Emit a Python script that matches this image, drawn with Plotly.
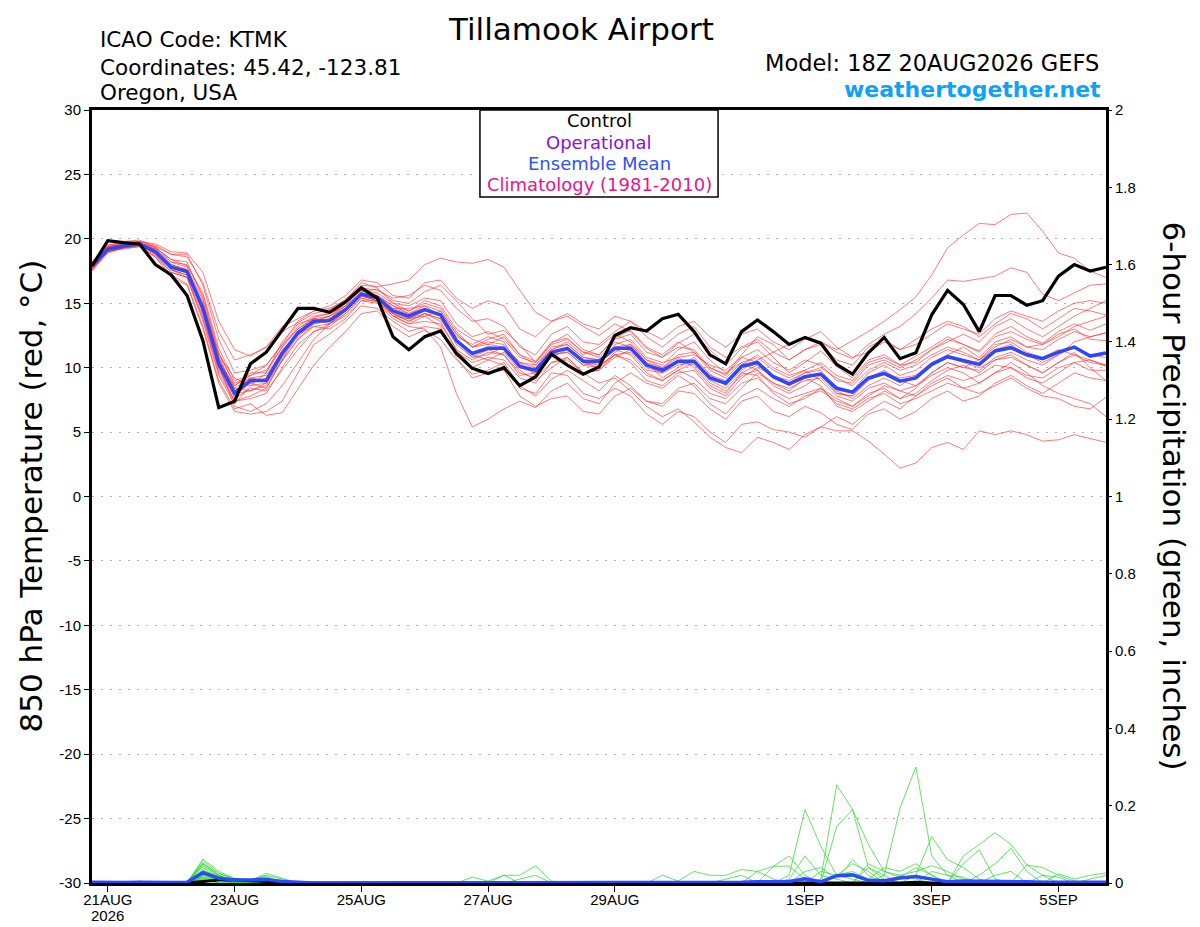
import pandas as pd
import plotly.graph_objects as go

# GEFS run 18Z 20AUG2026, 6-hourly steps out to 16 days (65 steps)
times = pd.date_range('2026-08-20 18:00', periods=65, freq='6h')

tick_dates = ['2026-08-21', '2026-08-23', '2026-08-25', '2026-08-27',
              '2026-08-29', '2026-09-01', '2026-09-03', '2026-09-05']
tick_text = ['21AUG', '23AUG', '25AUG', '27AUG', '29AUG', '1SEP', '3SEP', '5SEP']
year_label = '2026'

temp_ticks = [30, 25, 20, 15, 10, 5, 0, -5, -10, -15, -20, -25, -30]
temp_tick_text = ['30', '25', '20', '15', '10', '5', '0', '-5', '-10', '-15', '-20', '-25', '-30']

# 850 hPa temperature, control run
control_t = [17.9, 19.85, 19.7, 19.6, 18.0, 17.2, 15.6, 12.1, 6.9, 7.4,
             10.3, 11.2, 12.9, 14.6, 14.6, 14.3, 15.1, 16.2, 15.4, 12.4,
             11.4, 12.4, 12.85, 11.1, 9.95, 9.55, 10.0, 8.6, 9.3, 11.05,
             10.2, 9.5, 10.05, 12.5, 13.1, 12.85, 13.8, 14.15, 12.8, 11.0,
             10.3, 12.8, 13.7, 12.8, 11.8, 12.35, 11.9, 10.25, 9.5, 11.15,
             12.35, 10.7, 11.15, 14.1, 16.0, 14.9, 12.8, 15.6, 15.6, 14.85,
             15.2, 17.1, 18.0, 17.5, 17.8]

# 850 hPa temperature, ensemble mean
mean_t = [17.9, 19.2, 19.45, 19.6, 19.0, 17.8, 17.45, 14.6, 10.3, 8.05,
          9.0, 9.0, 11.1, 12.7, 13.6, 13.65, 14.5, 15.7, 15.45, 14.4,
          14.0, 14.5, 14.1, 12.1, 11.1, 11.5, 11.5, 10.1, 9.8, 11.2,
          11.5, 10.5, 10.5, 11.5, 11.5, 10.2, 9.8, 10.5, 10.5, 9.2,
          8.8, 10.1, 10.4, 9.3, 8.75, 9.3, 9.5, 8.4, 8.1, 9.2,
          9.55, 8.95, 9.2, 10.25, 10.85, 10.55, 10.25, 11.3, 11.55, 11.0,
          10.7, 11.2, 11.6, 10.9, 11.15]

# 850 hPa temperature, ensemble members
members_t = [
    [18.2, 19.5, 19.8, 19.9, 19.3, 18.4, 17.9, 15.8, 11.5, 9.0, 9.4, 10.2, 11.8, 13.0, 13.9, 14.2, 15.0, 16.0, 15.6, 14.8,
     14.4, 15.2, 14.8, 13.0, 12.2, 11.8, 12.4, 11.0, 10.5, 12.0, 12.3, 11.2, 10.8, 12.0, 11.6, 10.4, 9.2, 10.0, 10.8, 9.5,
     8.6, 9.8, 10.6, 11.2, 11.8, 12.4, 12.0, 11.4, 12.1, 12.8, 13.6, 14.5, 15.5, 17.2, 19.3, 20.3, 21.2, 21.1, 21.9, 22.0,
     20.6, 18.9, 18.5, 17.5, 17.0],
    [17.6, 19.0, 19.3, 19.5, 19.2, 18.0, 17.6, 15.0, 11.0, 9.2, 8.6, 8.8, 10.5, 12.2, 13.4, 13.8, 14.8, 15.9, 16.1, 15.2,
     15.0, 15.9, 16.4, 15.2, 13.8, 12.6, 12.9, 11.8, 10.4, 11.9, 12.6, 11.4, 11.0, 12.3, 12.9, 11.6, 11.0, 12.0, 11.2, 10.0,
     9.5, 11.0, 12.4, 11.8, 10.6, 11.4, 12.0, 11.2, 10.7, 11.8, 12.6, 13.2, 14.2, 15.4, 16.8, 16.7, 16.9, 17.1, 17.75, 17.4,
     15.7, 15.2, 15.8, 16.4, 16.5],
    [18.0, 19.3, 19.6, 19.8, 19.6, 19.0, 18.9, 17.4, 13.6, 11.4, 10.9, 11.6, 12.8, 13.5, 14.2, 14.5, 15.3, 16.4, 16.3, 16.5,
     16.8, 18.0, 18.5, 18.2, 18.1, 18.4, 17.8, 16.0, 14.3, 13.6, 14.0, 13.2, 12.5, 13.4, 12.8, 11.5, 10.8, 11.9, 12.6, 11.4,
     10.2, 11.5, 12.0, 10.8, 9.6, 10.4, 11.3, 10.1, 9.2, 10.6, 11.0, 10.2, 10.9, 11.6, 12.4, 11.8, 11.3, 12.6, 13.2, 12.4,
     11.9, 12.8, 13.4, 12.9, 13.4],
    [17.7, 19.1, 19.2, 19.4, 18.6, 17.2, 16.5, 13.2, 9.0, 6.8, 7.2, 6.3, 6.5, 8.4, 10.2, 11.6, 12.8, 14.2, 14.4, 13.2,
     12.4, 12.9, 12.2, 10.6, 9.5, 9.8, 10.4, 8.6, 7.8, 9.1, 9.8, 9.0, 8.2, 9.4, 8.6, 7.4, 7.0, 8.2, 8.0, 6.8,
     6.0, 7.4, 7.8, 6.6, 6.2, 7.0, 6.5, 5.6, 5.2, 6.4, 6.8, 6.0, 6.6, 7.6, 8.2, 7.4, 7.8, 8.8, 9.4, 8.6,
     8.0, 8.8, 9.6, 9.2, 9.0],
    [17.8, 19.2, 19.5, 19.6, 19.0, 17.6, 17.0, 14.0, 9.8, 7.8, 8.8, 9.2, 11.4, 12.6, 13.2, 13.0, 13.8, 15.2, 15.0, 13.8,
     13.2, 13.0, 11.6, 8.0, 5.4, 6.0, 6.8, 7.4, 6.9, 8.2, 8.8, 7.6, 7.2, 8.8, 9.6, 8.8, 8.4, 9.4, 8.6, 7.2,
     6.4, 7.8, 8.4, 7.6, 7.0, 7.8, 8.2, 7.4, 7.0, 8.0, 8.4, 7.6, 8.0, 9.0, 9.8, 10.2, 9.6, 10.6, 11.0, 10.2,
     9.6, 10.4, 11.2, 10.0, 9.0],
    [18.1, 19.4, 19.6, 19.7, 18.8, 17.6, 17.2, 14.4, 10.0, 7.4, 7.6, 8.0, 10.0, 11.8, 12.8, 13.2, 14.2, 15.4, 15.1, 14.0,
     13.8, 14.2, 13.6, 11.4, 10.0, 10.6, 10.2, 8.4, 8.0, 9.6, 9.4, 8.0, 7.6, 8.4, 7.8, 6.4, 5.6, 6.6, 6.2, 5.0,
     4.2, 5.6, 5.8, 5.2, 5.0, 4.6, 5.4, 5.1, 5.1, 4.3, 3.3, 2.2, 2.6, 3.8, 4.2, 3.65, 5.1, 4.8, 5.1, 4.8,
     4.3, 4.4, 4.8, 4.5, 4.2],
    [17.5, 18.9, 19.3, 19.5, 19.1, 17.9, 17.5, 14.8, 10.8, 8.4, 8.2, 8.6, 10.8, 12.4, 13.6, 14.0, 14.6, 15.6, 15.2, 14.6,
     14.2, 14.6, 14.0, 12.2, 11.0, 10.6, 11.2, 9.8, 9.0, 10.0, 10.8, 9.6, 8.8, 9.2, 8.2, 7.0, 6.2, 6.8, 5.8, 4.6,
     3.8, 3.4, 4.6, 4.2, 3.65, 4.8, 5.4, 6.2, 5.6, 6.6, 7.4, 6.8, 7.8, 8.6, 9.2, 8.4, 8.8, 9.6, 10.4, 9.6,
     8.6, 8.0, 7.6, 7.2, 6.2],
    [17.9, 19.3, 19.5, 19.7, 19.2, 18.2, 18.0, 15.6, 11.2, 8.6, 9.6, 9.6, 11.6, 13.2, 14.0, 14.2, 14.8, 16.2, 16.0, 15.4,
     15.6, 16.4, 16.0, 14.6, 13.6, 13.8, 13.2, 11.6, 11.0, 12.6, 13.2, 12.0, 11.8, 12.8, 13.6, 12.8, 12.2, 13.2, 13.6, 12.4,
     11.6, 12.6, 13.0, 12.0, 11.4, 12.2, 12.8, 11.6, 10.8, 11.2, 12.0, 11.4, 12.2, 13.0, 13.6, 13.2, 12.4, 13.4, 14.2, 13.8,
     13.0, 13.8, 14.6, 14.4, 14.1],
    [17.6, 19.0, 19.4, 19.5, 18.9, 17.8, 17.6, 14.2, 10.4, 7.6, 8.4, 8.2, 9.8, 11.4, 12.8, 13.4, 14.4, 15.6, 15.6, 14.0,
     13.4, 14.0, 14.4, 12.6, 11.6, 12.2, 12.6, 11.0, 10.2, 11.4, 12.0, 11.0, 11.6, 12.6, 12.0, 10.6, 10.2, 11.4, 12.0, 10.6,
     9.6, 10.4, 9.8, 8.6, 8.0, 8.6, 9.4, 8.2, 7.6, 8.6, 9.2, 8.6, 9.4, 10.4, 11.0, 11.6, 10.8, 12.0, 12.4, 11.6,
     11.4, 12.2, 12.8, 12.4, 12.7],
    [18.0, 19.2, 19.4, 19.5, 18.7, 17.4, 17.0, 13.6, 9.4, 7.2, 8.6, 9.6, 12.0, 13.4, 13.8, 13.4, 14.0, 15.2, 15.2, 14.2,
     13.6, 14.2, 13.8, 11.8, 10.8, 11.4, 11.0, 9.4, 9.6, 11.0, 11.2, 10.2, 10.4, 11.8, 12.2, 10.8, 10.4, 10.8, 10.0, 8.6,
     8.0, 9.6, 10.2, 9.2, 8.6, 9.2, 9.6, 8.0, 7.8, 9.2, 9.8, 9.0, 8.6, 9.6, 10.4, 10.0, 10.6, 11.8, 12.0, 11.2,
     10.8, 11.4, 11.0, 10.4, 10.2],
    [17.8, 19.1, 19.3, 19.6, 19.4, 18.8, 18.6, 16.6, 12.8, 10.6, 11.0, 11.6, 13.2, 13.8, 14.4, 14.6, 15.2, 16.6, 16.2, 15.0,
     14.4, 15.0, 14.6, 12.8, 11.6, 12.0, 11.8, 10.4, 10.2, 11.6, 11.8, 10.8, 10.6, 11.4, 11.0, 9.6, 9.0, 9.8, 10.4, 9.4,
     9.0, 10.2, 11.0, 10.0, 9.4, 9.8, 9.0, 7.8, 7.4, 8.4, 8.8, 8.2, 8.6, 9.4, 10.0, 9.6, 8.8, 9.6, 10.0, 9.4,
     9.2, 10.0, 10.4, 9.8, 9.8],
    [17.7, 19.0, 19.3, 19.4, 18.6, 17.0, 16.4, 13.0, 8.8, 6.6, 6.4, 6.6, 7.4, 9.6, 11.8, 12.6, 13.6, 14.8, 14.6, 13.6,
     12.8, 13.2, 13.0, 11.2, 10.4, 10.8, 10.6, 9.2, 8.8, 10.4, 10.6, 9.6, 9.8, 11.0, 10.6, 9.4, 9.0, 9.8, 9.2, 8.0,
     7.6, 8.8, 9.2, 8.2, 7.6, 8.0, 8.4, 7.2, 6.8, 7.6, 8.0, 7.2, 7.6, 8.2, 8.8, 8.4, 8.0, 8.6, 9.2, 8.4,
     7.8, 7.6, 7.0, 6.8, 7.7],
    [18.0, 19.4, 19.7, 19.8, 19.4, 18.2, 17.8, 15.2, 10.8, 8.2, 8.8, 8.4, 10.6, 12.8, 13.8, 14.0, 15.0, 16.0, 15.8, 15.0,
     14.8, 15.4, 15.2, 13.4, 12.4, 12.8, 12.2, 10.8, 10.4, 11.8, 12.2, 11.2, 11.0, 12.2, 12.6, 11.2, 10.8, 11.6, 11.4, 10.0,
     9.4, 10.8, 11.4, 10.4, 9.8, 10.6, 10.2, 9.0, 8.8, 10.2, 10.6, 10.0, 10.6, 11.4, 12.0, 12.6, 12.0, 13.2, 13.8, 13.0,
     12.4, 13.2, 14.0, 14.6, 15.2],
    [17.9, 19.2, 19.5, 19.6, 19.0, 17.6, 17.2, 14.4, 10.2, 7.0, 6.6, 7.2, 8.6, 10.4, 12.2, 13.4, 14.4, 15.6, 15.2, 14.0,
     13.4, 13.6, 13.4, 11.4, 10.6, 11.2, 11.0, 9.6, 9.2, 10.4, 10.8, 9.6, 9.8, 10.8, 11.4, 10.0, 9.6, 10.2, 10.4, 9.0,
     8.4, 9.6, 9.4, 8.0, 7.2, 7.6, 8.4, 7.6, 7.0, 7.8, 8.6, 8.2, 7.8, 8.8, 9.4, 9.0, 9.4, 10.2, 10.0, 9.2,
     8.8, 9.6, 10.4, 10.6, 10.1],
    [18.1, 19.4, 19.6, 19.7, 19.3, 18.4, 18.2, 15.4, 11.0, 8.8, 9.2, 9.0, 11.0, 12.8, 13.6, 13.8, 14.6, 15.8, 15.6, 14.6,
     14.6, 14.8, 14.0, 12.0, 10.8, 11.0, 11.6, 10.4, 9.4, 10.8, 11.4, 10.4, 10.0, 11.2, 11.8, 10.6, 10.0, 10.8, 11.0, 10.2,
     9.8, 10.8, 10.4, 9.2, 8.8, 9.6, 10.0, 9.2, 8.6, 9.8, 10.4, 9.8, 10.2, 11.0, 11.6, 11.2, 10.6, 11.6, 12.2, 11.6,
     11.8, 12.6, 13.0, 12.2, 12.1],
    [17.6, 19.1, 19.4, 19.6, 19.1, 17.8, 17.6, 14.8, 10.6, 8.0, 8.2, 8.8, 11.2, 12.6, 13.4, 13.6, 14.6, 15.8, 15.4, 14.4,
     13.8, 14.4, 14.2, 12.4, 11.8, 12.4, 12.0, 10.0, 9.6, 11.0, 11.6, 10.4, 10.2, 11.0, 10.4, 9.0, 8.6, 9.6, 9.8, 8.4,
     7.8, 9.2, 10.0, 9.4, 9.0, 9.6, 9.8, 8.4, 8.2, 9.6, 10.2, 9.4, 9.8, 10.8, 11.4, 11.0, 10.6, 11.4, 11.8, 11.0,
     10.4, 11.0, 11.6, 11.0, 10.8],
    [17.8, 19.2, 19.4, 19.5, 18.8, 17.4, 17.0, 13.8, 9.6, 7.4, 7.8, 8.4, 10.6, 12.2, 13.2, 13.4, 14.2, 15.4, 15.4, 14.2,
     13.8, 14.0, 13.2, 10.8, 9.2, 9.6, 9.8, 7.8, 7.0, 7.6, 7.8, 6.6, 6.4, 7.8, 8.4, 7.4, 7.2, 8.4, 8.8, 7.6,
     7.2, 8.4, 9.6, 8.8, 8.2, 9.2, 8.6, 7.0, 6.6, 7.4, 8.2, 7.6, 8.4, 9.6, 10.4, 10.0, 9.8, 10.8, 11.2, 10.6,
     10.2, 11.0, 12.0, 12.4, 12.7],
    [18.2, 19.5, 19.7, 19.8, 19.5, 18.8, 18.8, 16.4, 12.2, 9.6, 9.8, 10.2, 11.8, 13.6, 14.4, 14.8, 15.6, 16.8, 16.6, 15.6,
     15.4, 16.6, 16.8, 15.4, 14.6, 15.2, 14.8, 13.0, 12.4, 13.6, 14.2, 13.4, 13.0, 14.0, 13.6, 12.4, 11.6, 12.6, 13.2, 11.6,
     10.8, 11.6, 12.2, 11.2, 10.6, 11.4, 11.8, 10.6, 10.2, 11.6, 12.2, 11.4, 11.8, 12.6, 13.4, 13.0, 12.6, 13.8, 14.4, 14.0,
     13.6, 14.4, 15.0, 15.2, 15.0],
    [17.7, 19.0, 19.3, 19.5, 18.9, 17.8, 17.4, 14.6, 10.4, 8.6, 9.4, 9.8, 11.6, 13.0, 13.8, 13.6, 14.4, 15.6, 15.2, 14.2,
     13.6, 14.2, 13.8, 12.0, 11.2, 11.6, 11.4, 10.0, 9.8, 11.0, 11.2, 10.2, 10.0, 11.0, 11.2, 9.8, 9.6, 10.4, 10.2, 8.8,
     8.2, 9.4, 9.8, 8.8, 8.4, 9.0, 9.2, 8.0, 7.8, 9.0, 9.6, 9.2, 9.4, 10.4, 10.8, 10.4, 10.0, 10.6, 10.8, 10.2,
     9.6, 10.4, 11.0, 10.6, 10.2],
    [17.9, 19.3, 19.5, 19.6, 19.2, 18.0, 17.6, 14.8, 10.6, 8.4, 9.2, 9.4, 11.2, 12.8, 13.6, 14.0, 14.8, 15.8, 15.6, 14.8,
     14.2, 14.8, 14.4, 12.6, 11.6, 11.8, 11.6, 10.4, 10.0, 11.4, 11.8, 10.8, 10.6, 11.6, 11.8, 10.4, 10.0, 11.0, 11.2, 9.8,
     9.2, 10.4, 10.8, 9.8, 9.2, 9.8, 10.4, 9.4, 9.0, 10.4, 10.8, 10.2, 10.4, 11.4, 12.2, 11.8, 11.2, 12.4, 12.8, 12.2,
     11.8, 12.4, 13.2, 13.6, 14.0],
]

# 6-hour precipitation (inches), control and ensemble mean
control_p = [0, 0, 0, 0, 0, 0, 0, 0.004, 0.008, 0.008, 0.006, 0.004, 0,
             0, 0, 0, 0, 0, 0, 0, 0, 0, 0, 0, 0, 0,
             0, 0, 0, 0, 0, 0, 0, 0, 0, 0, 0, 0, 0,
             0, 0, 0, 0, 0, 0, 0, 0, 0, 0, 0, 0, 0,
             0.002, 0, 0, 0, 0, 0, 0, 0, 0, 0, 0, 0, 0]

mean_p = [0.002, 0.001, 0.001, 0.002, 0.001, 0.001, 0.002, 0.027, 0.012, 0.008, 0.008, 0.009, 0.004,
          0.001, 0, 0, 0, 0, 0, 0, 0, 0, 0, 0, 0.001, 0.001,
          0.001, 0.002, 0.002, 0.001, 0, 0, 0, 0, 0, 0, 0.001, 0.001, 0.002,
          0.002, 0.002, 0.002, 0.003, 0.003, 0.004, 0.011, 0.003, 0.019, 0.021, 0.007, 0.006, 0.013,
          0.017, 0.01, 0.003, 0.005, 0.005, 0.005, 0.004, 0.003, 0.002, 0.002, 0.002, 0.002, 0.002]

# 6-hour precipitation (inches), ensemble members
members_p = [
    [0, 0, 0, 0, 0, 0, 0, 0.062, 0.03, 0.012, 0.008, 0.02, 0.01,
     0, 0, 0, 0, 0, 0, 0, 0, 0, 0, 0, 0, 0,
     0, 0, 0, 0, 0, 0, 0, 0, 0, 0, 0, 0, 0,
     0, 0, 0, 0, 0, 0.02, 0.19, 0.095, 0.02, 0.01, 0, 0, 0,
     0, 0, 0, 0, 0, 0, 0, 0, 0.005, 0, 0, 0, 0],
    [0, 0, 0, 0, 0, 0, 0, 0.058, 0.025, 0.01, 0.006, 0.025, 0.012,
     0, 0, 0, 0, 0, 0, 0, 0, 0, 0, 0, 0, 0,
     0, 0, 0, 0, 0, 0, 0, 0, 0, 0, 0, 0, 0,
     0, 0, 0, 0, 0, 0, 0, 0.01, 0.254, 0.19, 0.04, 0.01, 0,
     0, 0, 0, 0, 0, 0, 0, 0, 0, 0, 0, 0, 0],
    [0, 0, 0, 0, 0, 0, 0.004, 0.052, 0.02, 0.008, 0.01, 0.015, 0,
     0, 0, 0, 0, 0, 0, 0, 0, 0, 0, 0, 0, 0,
     0, 0, 0, 0, 0, 0, 0, 0, 0, 0, 0, 0, 0,
     0, 0, 0, 0, 0, 0, 0, 0, 0.146, 0.19, 0.1, 0.03, 0.02,
     0.01, 0, 0, 0, 0, 0, 0, 0, 0, 0, 0, 0, 0],
    [0, 0, 0, 0, 0, 0, 0, 0.048, 0.018, 0.006, 0, 0.012, 0,
     0, 0, 0, 0, 0, 0, 0, 0, 0, 0, 0, 0, 0,
     0, 0, 0, 0, 0, 0, 0, 0, 0, 0, 0, 0, 0,
     0, 0, 0, 0, 0, 0, 0, 0, 0, 0, 0, 0.02, 0.194,
     0.3, 0.07, 0.02, 0, 0, 0, 0, 0, 0, 0, 0, 0, 0],
    [0, 0, 0, 0, 0, 0, 0, 0.044, 0.02, 0, 0.008, 0, 0,
     0, 0, 0, 0, 0, 0, 0, 0, 0, 0, 0, 0, 0,
     0, 0, 0, 0, 0, 0, 0, 0, 0, 0, 0, 0, 0,
     0, 0, 0, 0, 0, 0, 0, 0, 0, 0, 0, 0, 0,
     0.02, 0.12, 0.06, 0.04, 0.01, 0, 0, 0, 0, 0, 0, 0, 0],
    [0, 0, 0, 0, 0, 0, 0, 0.04, 0.015, 0, 0, 0.01, 0,
     0, 0, 0, 0, 0, 0, 0, 0, 0, 0, 0, 0, 0,
     0, 0, 0, 0, 0, 0, 0, 0, 0, 0, 0, 0, 0,
     0, 0, 0, 0, 0, 0, 0, 0, 0, 0, 0, 0, 0,
     0, 0, 0, 0.07, 0.1, 0.13, 0.1, 0.047, 0.02, 0, 0, 0, 0],
    [0, 0, 0, 0, 0, 0, 0, 0.035, 0.012, 0.005, 0, 0, 0,
     0, 0, 0, 0, 0, 0, 0, 0, 0, 0, 0, 0, 0,
     0, 0, 0, 0, 0, 0, 0, 0, 0, 0, 0, 0, 0,
     0, 0, 0, 0, 0, 0, 0, 0, 0, 0, 0, 0, 0,
     0, 0, 0, 0.05, 0.086, 0.01, 0, 0, 0, 0, 0, 0, 0],
    [0, 0, 0, 0.005, 0, 0, 0, 0.03, 0.01, 0, 0, 0, 0,
     0, 0, 0, 0, 0, 0, 0, 0, 0, 0, 0, 0, 0,
     0.02, 0.02, 0.044, 0.005, 0, 0, 0, 0, 0, 0, 0, 0, 0,
     0, 0, 0, 0, 0.043, 0.07, 0.02, 0, 0, 0, 0, 0, 0,
     0, 0, 0, 0, 0, 0, 0, 0, 0, 0, 0, 0, 0],
    [0, 0, 0, 0, 0, 0, 0, 0.025, 0.01, 0, 0, 0, 0,
     0, 0, 0, 0, 0, 0, 0, 0, 0, 0, 0, 0.015, 0.005,
     0.02, 0, 0, 0, 0, 0, 0, 0, 0, 0, 0, 0, 0,
     0, 0, 0, 0.03, 0.043, 0.044, 0.01, 0, 0, 0, 0.04, 0.02, 0,
     0, 0, 0, 0, 0, 0, 0, 0, 0, 0, 0, 0, 0],
    [0, 0, 0, 0, 0, 0, 0, 0.02, 0.008, 0, 0, 0, 0,
     0, 0, 0, 0, 0, 0, 0, 0, 0, 0, 0, 0, 0,
     0, 0, 0, 0, 0, 0, 0, 0, 0, 0, 0.02, 0.005, 0.03,
     0.02, 0.02, 0.035, 0.03, 0.01, 0, 0, 0, 0, 0, 0, 0, 0,
     0, 0, 0, 0, 0, 0, 0, 0, 0, 0, 0, 0, 0],
    [0, 0, 0, 0, 0, 0, 0, 0.018, 0.02, 0, 0, 0, 0,
     0, 0, 0, 0, 0, 0, 0, 0, 0, 0, 0, 0, 0,
     0, 0, 0, 0, 0, 0, 0, 0, 0, 0, 0, 0, 0,
     0, 0, 0, 0, 0, 0.01, 0.07, 0.02, 0.01, 0.06, 0.02, 0, 0,
     0, 0, 0, 0, 0, 0, 0, 0, 0, 0, 0, 0, 0],
    [0, 0, 0, 0, 0, 0, 0, 0.015, 0, 0, 0, 0, 0,
     0, 0, 0, 0, 0, 0, 0, 0, 0, 0, 0, 0, 0,
     0, 0, 0, 0, 0, 0, 0, 0, 0, 0, 0, 0, 0,
     0, 0, 0, 0, 0, 0, 0, 0, 0, 0, 0.05, 0.03, 0.015,
     0.04, 0.02, 0, 0, 0, 0, 0, 0, 0, 0, 0, 0, 0],
    [0, 0, 0, 0, 0, 0, 0, 0.012, 0.01, 0, 0, 0, 0,
     0, 0, 0, 0, 0, 0, 0, 0, 0, 0, 0, 0, 0,
     0, 0, 0, 0, 0, 0, 0, 0, 0, 0, 0, 0, 0,
     0, 0, 0, 0, 0, 0, 0, 0, 0, 0, 0, 0, 0,
     0, 0.03, 0.02, 0.015, 0, 0, 0, 0, 0, 0.024, 0.01, 0.02, 0.026],
    [0, 0, 0, 0, 0, 0, 0, 0.01, 0, 0, 0, 0, 0,
     0, 0, 0, 0, 0, 0, 0, 0, 0, 0, 0, 0, 0,
     0, 0, 0, 0, 0, 0, 0, 0, 0, 0, 0, 0, 0,
     0, 0, 0, 0, 0, 0, 0, 0, 0, 0, 0, 0, 0,
     0, 0, 0, 0, 0.02, 0.05, 0.09, 0.03, 0, 0, 0, 0, 0],
    [0, 0, 0, 0, 0, 0, 0.002, 0.008, 0, 0, 0, 0, 0,
     0, 0, 0, 0, 0, 0, 0, 0, 0, 0, 0, 0, 0,
     0, 0, 0, 0, 0, 0, 0, 0, 0, 0, 0, 0, 0,
     0, 0, 0, 0, 0, 0, 0, 0, 0.02, 0.03, 0.01, 0.04, 0.03,
     0.05, 0.02, 0, 0, 0, 0, 0, 0, 0, 0, 0, 0, 0],
    [0, 0, 0, 0, 0, 0, 0, 0.028, 0.015, 0, 0, 0.008, 0,
     0, 0, 0, 0, 0, 0, 0, 0, 0, 0, 0, 0, 0,
     0, 0, 0, 0, 0, 0, 0, 0, 0, 0, 0, 0, 0,
     0, 0, 0, 0, 0, 0, 0, 0, 0, 0, 0, 0, 0,
     0, 0, 0, 0, 0, 0, 0, 0.047, 0.04, 0.02, 0.005, 0, 0],
    [0, 0, 0, 0, 0, 0, 0, 0.032, 0.018, 0, 0, 0, 0,
     0, 0, 0, 0, 0, 0, 0, 0, 0, 0, 0, 0, 0,
     0, 0.01, 0.02, 0, 0, 0, 0, 0, 0, 0, 0, 0, 0,
     0, 0, 0, 0, 0, 0, 0, 0.03, 0.02, 0.05, 0.03, 0, 0,
     0, 0, 0, 0, 0, 0, 0, 0, 0, 0, 0, 0, 0],
    [0, 0, 0, 0, 0, 0, 0, 0.022, 0.012, 0.008, 0, 0, 0,
     0, 0, 0, 0, 0, 0, 0, 0, 0, 0, 0, 0, 0,
     0, 0, 0, 0, 0, 0, 0, 0, 0, 0, 0, 0, 0,
     0, 0.01, 0.02, 0, 0, 0, 0, 0, 0, 0, 0, 0, 0,
     0, 0, 0, 0, 0, 0.02, 0.03, 0, 0, 0, 0, 0.01, 0.02],
    [0, 0, 0, 0, 0, 0, 0, 0.016, 0.01, 0, 0, 0, 0.006,
     0, 0, 0, 0, 0, 0, 0, 0, 0, 0, 0, 0, 0,
     0, 0, 0, 0, 0, 0, 0, 0, 0, 0, 0, 0, 0,
     0, 0, 0, 0, 0, 0, 0.03, 0.04, 0.01, 0, 0, 0, 0,
     0, 0, 0, 0, 0, 0, 0, 0, 0.02, 0.015, 0, 0, 0],
    [0, 0, 0, 0.004, 0, 0, 0, 0.05, 0.025, 0.01, 0.008, 0.018, 0,
     0, 0, 0, 0, 0, 0, 0, 0, 0, 0, 0, 0, 0,
     0, 0, 0, 0, 0, 0, 0, 0, 0, 0, 0, 0, 0,
     0, 0, 0, 0, 0, 0, 0, 0, 0, 0, 0, 0, 0.02,
     0.03, 0.045, 0.03, 0.01, 0, 0, 0, 0, 0, 0, 0, 0, 0],
]

TICK_FONT = 'Liberation Sans, Arial, Helvetica, sans-serif'
TEXT_FONT = 'DejaVu Sans, Verdana, sans-serif'
RED = 'rgba(255,45,45,0.8)'
GREEN = 'rgba(40,215,40,0.9)'
BLUE = '#2a48ff'

fig = go.Figure()

# thin ensemble member lines first
for m in members_t:
    fig.add_trace(go.Scatter(x=times, y=m, mode='lines',
                             line=dict(color=RED, width=0.8), yaxis='y'))
for m in members_p:
    fig.add_trace(go.Scatter(x=times, y=m, mode='lines',
                             line=dict(color=GREEN, width=0.8), yaxis='y2'))

# precip control + mean
fig.add_trace(go.Scatter(x=times, y=control_p, mode='lines',
                         line=dict(color='black', width=3), yaxis='y2'))
fig.add_trace(go.Scatter(x=times, y=mean_p, mode='lines',
                         line=dict(color=BLUE, width=3.5), yaxis='y2'))

# temperature mean + control on top
fig.add_trace(go.Scatter(x=times, y=mean_t, mode='lines',
                         line=dict(color=BLUE, width=3.5), yaxis='y'))
fig.add_trace(go.Scatter(x=times, y=control_t, mode='lines',
                         line=dict(color='black', width=3.2), yaxis='y'))

# the page adds an 8px body margin, so the figure is offset by 8px
fig.update_layout(
    width=1192, height=919,
    margin=dict(l=84, r=94, t=102, b=44),
    paper_bgcolor='white', plot_bgcolor='white',
    showlegend=False,
    font=dict(family=TICK_FONT, color='black', size=15),
    xaxis=dict(
        type='date',
        range=[times[0], times[-1]],
        tickvals=tick_dates, ticktext=tick_text,
        ticks='outside', ticklen=6, tickcolor='black', tickwidth=1,
        ticklabelstandoff=-5,
        showgrid=False, zeroline=False, automargin=False,
        showline=True, linecolor='black', linewidth=3, mirror=True,
        tickfont=dict(size=15),
    ),
    yaxis=dict(
        range=[-30, 30],
        tickvals=temp_ticks, ticktext=temp_tick_text,
        ticks='outside', ticklen=5, tickcolor='black',
        showgrid=True, gridcolor='#b0b0b0', gridwidth=1, griddash='2px,7px',
        zeroline=False, automargin=False,
        showline=True, linecolor='black', linewidth=3, mirror=True,
        tickfont=dict(size=15),
    ),
    yaxis2=dict(
        range=[0, 2], dtick=0.2,
        overlaying='y', side='right', anchor='x',
        ticks='outside', ticklen=5, tickcolor='black',
        showgrid=False, zeroline=False, automargin=False,
        tickfont=dict(size=15),
    ),
)

# year under the first date tick
fig.add_annotation(text=year_label, xref='x', yref='paper', x=tick_dates[0], y=-0.0414,
                   xanchor='center', yanchor='middle', showarrow=False,
                   font=dict(size=15, family=TICK_FONT))

# header text (paper coords relative to the plot area)
fig.add_annotation(text='Tillamook Airport', xref='paper', yref='paper',
                   x=0.482, y=1.131, xanchor='center', yanchor='top',
                   showarrow=False, font=dict(size=31, family=TEXT_FONT))
for txt, yy in [('ICAO Code: KTMK', 1.0906),
                ('Coordinates: 45.42, -123.81', 1.0556),
                ('Oregon, USA', 1.022)]:
    fig.add_annotation(text=txt, xref='paper', yref='paper', x=0.0059, y=yy,
                       xanchor='left', yanchor='middle', showarrow=False,
                       font=dict(size=21.5, family=TEXT_FONT))
fig.add_annotation(text='Model: 18Z 20AUG2026 GEFS', xref='paper', yref='paper',
                   x=0.995, y=1.0608, xanchor='right', yanchor='middle',
                   showarrow=False, font=dict(size=22.5, family=TEXT_FONT))
fig.add_annotation(text='<b>weathertogether.net</b>', xref='paper', yref='paper',
                   x=0.997, y=1.0259, xanchor='right', yanchor='middle',
                   showarrow=False, font=dict(size=22, family=TEXT_FONT, color='#10a2f5'))

# axis titles (right one reads top to bottom)
fig.add_annotation(text='850 hPa Temperature (red, \u00b0C)', xref='paper', yref='paper',
                   x=-0.0611, y=0.5, xanchor='center', yanchor='middle',
                   textangle=-90, showarrow=False, font=dict(size=31, family=TEXT_FONT))
fig.add_annotation(text='6-hour Precipitation (green, inches)', xref='paper', yref='paper',
                   x=1.068, y=0.5, xanchor='center', yanchor='middle',
                   textangle=90, showarrow=False, font=dict(size=31, family=TEXT_FONT))

# legend box
fig.add_shape(type='rect', xref='paper', yref='paper',
              x0=0.3826, x1=0.6174, y0=0.8875, y1=1.0,
              line=dict(color='black', width=1.5), fillcolor='white', layer='above')
legend_items = [('Control', 'black', 0.9858),
                ('Operational', '#8a10e0', 0.9586),
                ('Ensemble Mean', '#3050ff', 0.9314),
                ('Climatology (1981-2010)', '#e8148a', 0.903)]
for txt, col, yy in legend_items:
    fig.add_annotation(text=txt, xref='paper', yref='paper', x=0.5, y=yy,
                       xanchor='center', yanchor='middle', showarrow=False,
                       font=dict(size=18, family=TEXT_FONT, color=col))

fig.write_html('out.html')
